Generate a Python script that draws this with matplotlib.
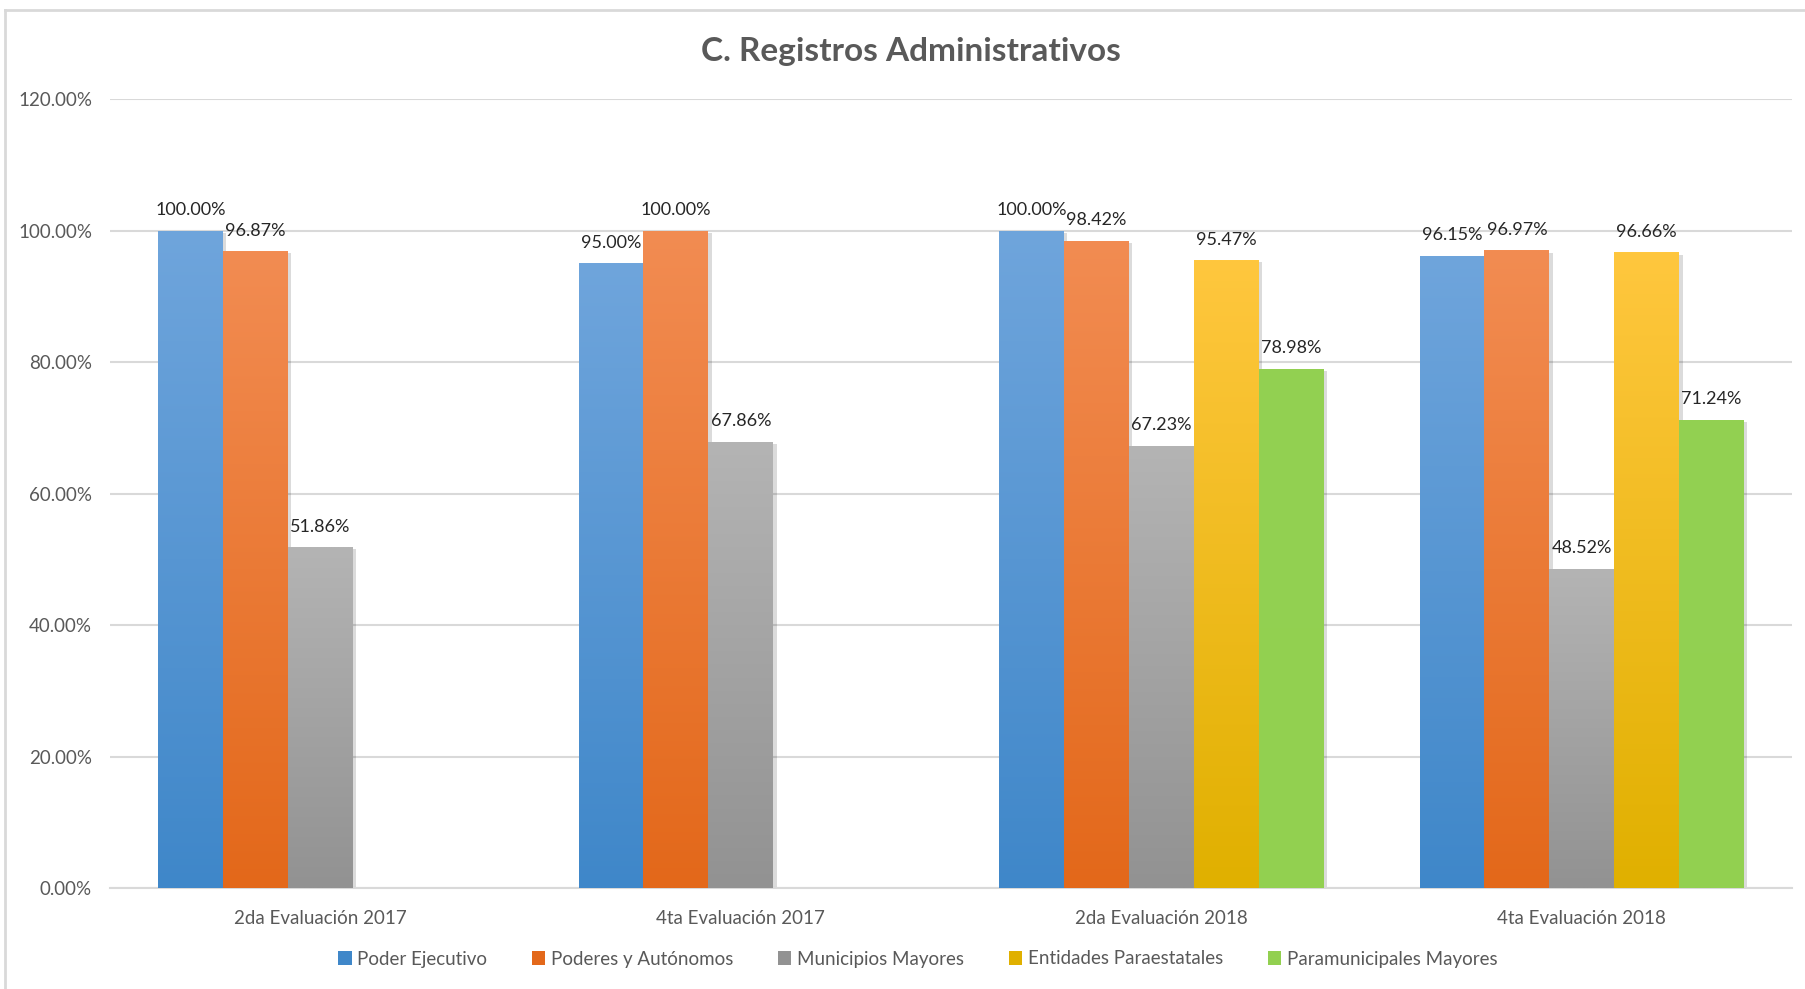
import matplotlib
matplotlib.use('Agg')
import matplotlib.pyplot as plt
import matplotlib.patheffects as pe
from matplotlib.colors import LinearSegmentedColormap
from matplotlib.patches import Patch
from matplotlib.lines import Line2D
import numpy as np

plt.rcParams['font.family'] = ['Lato', 'DejaVu Sans']

categorias = ['2da Evaluación 2017', '4ta Evaluación 2017',
              '2da Evaluación 2018', '4ta Evaluación 2018']
series = ['Poder Ejecutivo', 'Poderes y Autónomos', 'Municipios Mayores',
          'Entidades Paraestatales', 'Paramunicipales Mayores']
poder_ejecutivo = [100.00, 95.00, 100.00, 96.15]
poderes_autonomos = [96.87, 100.00, 98.42, 96.97]
municipios_mayores = [51.86, 67.86, 67.23, 48.52]
entidades_paraestatales = [None, None, 95.47, 96.66]
paramunicipales_mayores = [None, None, 78.98, 71.24]
valores = [poder_ejecutivo, poderes_autonomos, municipios_mayores,
           entidades_paraestatales, paramunicipales_mayores]

# (color arriba, color abajo) de cada serie
colores = [('#6FA5DC', '#3F87C9'),
           ('#F28C52', '#E3681A'),
           ('#B4B4B4', '#929292'),
           ('#FFC73E', '#E0B000'),
           ('#93D152', '#92D050')]

fig = plt.figure(figsize=(18.05, 9.89), dpi=100)
ax = fig.add_axes([110 / 1805, 1 - 888 / 989, 1682 / 1805, 789 / 989])

x = np.arange(len(categorias))
ancho = 0.1543
texto = '#595959'

for i, (vals, (c_top, c_bot)) in enumerate(zip(valores, colores)):
    cmap = LinearSegmentedColormap.from_list('g%d' % i, [c_bot, c_top])
    grad = np.linspace(1, 0, 256).reshape(-1, 1)
    for j, v in enumerate(vals):
        if v is None:
            continue
        xc = x[j] + (i - 2) * ancho
        barra = ax.bar(xc, v, width=ancho, color='none', linewidth=0, zorder=2)[0]
        barra.set_path_effects([pe.SimplePatchShadow(offset=(2.5, -1.5), shadow_rgbFace='#000000', alpha=0.14)])
        im = ax.imshow(grad, extent=[xc - ancho / 2, xc + ancho / 2, 0, v],
                       aspect='auto', cmap=cmap, vmin=0, vmax=1, zorder=3,
                       interpolation='bilinear')
        im.set_clip_path(barra)
        ax.text(xc, v + 1.9, '%.2f%%' % v, ha='center', va='bottom',
                fontsize=13, color='#262626', zorder=4)

ax.set_xlim(-0.5, 3.5)
ax.set_ylim(0, 120)
ax.set_yticks(np.arange(0, 121, 20))
ax.set_yticklabels(['%.2f%%' % t for t in np.arange(0, 121, 20)])
ax.set_xticks(x)
ax.set_xticklabels(categorias)
ax.grid(axis='y', color='#D9D9D9', linewidth=1.5, zorder=0)
ax.set_axisbelow(True)
for s in ['top', 'right', 'left']:
    ax.spines[s].set_visible(False)
ax.spines['bottom'].set_color('#D9D9D9')
ax.spines['bottom'].set_linewidth(1.5)
ax.tick_params(axis='both', length=0, colors=texto, labelsize=13.5)
ax.tick_params(axis='y', pad=13)
ax.tick_params(axis='x', pad=16)

fig.text(911 / 1805, 1 - 51 / 989, 'C. Registros Administrativos', ha='center',
         va='center', fontsize=24, fontweight='bold', color=texto)

handles = [Patch(facecolor=c[1], edgecolor='none') for c in colores]
fig.legend(handles, series, loc='center', bbox_to_anchor=(918 / 1805, 1 - 959 / 989),
           ncol=5, frameon=False, fontsize=13.5, labelcolor=texto,
           handlelength=0.7, handleheight=0.7, handletextpad=0.3, columnspacing=2.4)

# marco del grafico
fig.add_artist(Line2D([5 / 1805, 5 / 1805], [0, 1 - 10 / 989], transform=fig.transFigure,
                      color='#D9D9D9', linewidth=2))
fig.add_artist(Line2D([5 / 1805, 1], [1 - 10 / 989, 1 - 10 / 989], transform=fig.transFigure,
                      color='#D9D9D9', linewidth=2))

fig.savefig('out.png', dpi=100, facecolor='white')
